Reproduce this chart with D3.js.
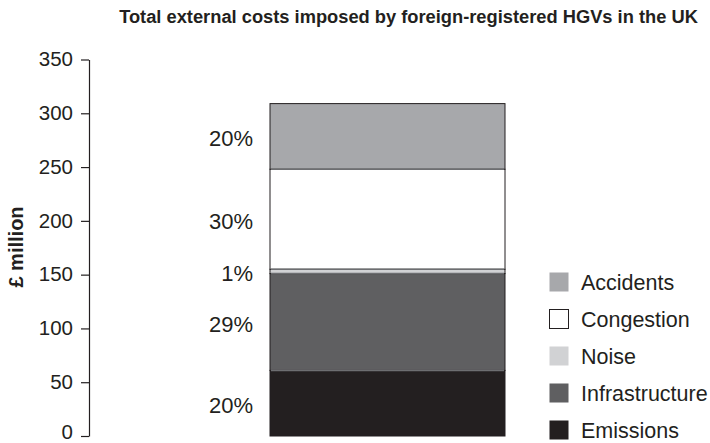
<!DOCTYPE html>
<html>
<head>
<meta charset="utf-8">
<script src="https://cdn.jsdelivr.net/npm/d3@7"></script>
<style>
  html, body { margin: 0; padding: 0; background: #ffffff; }
  svg { display: block; font-family: "Liberation Sans", Arial, Helvetica, sans-serif; }
</style>
</head>
<body>
<svg id="chart" width="710" height="443"></svg>
<script>
// Cost components, stacked bottom to top
const categories = ["Total"];
const components = ["Emissions", "Infrastructure", "Noise", "Congestion", "Accidents"];
const values = [61, 90, 4, 93, 61];           // £ million
const shareLabels = ["20%", "29%", "1%", "30%", "20%"];
const yTicks = [0, 50, 100, 150, 200, 250, 300, 350];
const legendOrder = ["Accidents", "Congestion", "Noise", "Infrastructure", "Emissions"];

const fills = {
  Emissions: "#231f20",
  Infrastructure: "#5f5f61",
  Noise: "#d1d2d4",
  Congestion: "#ffffff",
  Accidents: "#a7a8ab"
};
const ink = "#231f20";

const svg = d3.select("#chart");

// Plot geometry
const plot = { left: 89, top: 59.5, bottom: 436 };

const y = d3.scaleLinear().domain([0, 350]).range([plot.bottom, plot.top]);
const x = d3.scaleBand().domain(categories).range([270, 505]);

// Title
svg.append("text")
  .attr("x", 408.5).attr("y", 23)
  .attr("text-anchor", "middle")
  .attr("font-weight", "bold")
  .attr("font-size", 18.3)
  .attr("fill", ink)
  .text("Total external costs imposed by foreign-registered HGVs in the UK");

// Y axis
const yAxis = d3.axisLeft(y).tickValues(yTicks).tickSize(8).tickPadding(8).tickSizeOuter(0);
const gy = svg.append("g").attr("transform", `translate(${plot.left},0)`).call(yAxis);
gy.select(".domain").attr("stroke", ink).attr("stroke-width", 1.2);
gy.selectAll(".tick line").attr("stroke", ink).attr("stroke-width", 1.2);
gy.selectAll(".tick text")
  .attr("font-size", 20.5)
  .attr("dy", d => d === 0 ? "0.1em" : "0.3em")   // keep the bottom label inside the frame
  .attr("fill", ink)
  .attr("font-family", "Liberation Sans, Arial, sans-serif");

// Y axis title
svg.append("text")
  .attr("transform", `translate(23,247) rotate(-90)`)
  .attr("text-anchor", "middle")
  .attr("font-weight", "bold")
  .attr("font-size", 20)
  .attr("fill", ink)
  .text("£ million");

// Stacked bar
const row = { category: categories[0] };
components.forEach((c, i) => { row[c] = values[i]; });
const series = d3.stack().keys(components)([row]);

svg.append("g").selectAll("rect")
  .data(series)
  .join("rect")
  .attr("x", x(categories[0]))
  .attr("width", x.bandwidth())
  .attr("y", d => y(d[0][1]))
  .attr("height", d => y(d[0][0]) - y(d[0][1]))
  .attr("fill", d => fills[d.key])
  .attr("stroke", ink)
  .attr("stroke-width", 1);

// Divider lines between segments are lighter grey
svg.append("g").selectAll("line")
  .data(series.slice(1))
  .join("line")
  .attr("x1", x(categories[0]) + 1)
  .attr("x2", x(categories[0]) + x.bandwidth() - 1)
  .attr("y1", d => y(d[0][0]))
  .attr("y2", d => y(d[0][0]))
  .attr("stroke", "#6d6e71")
  .attr("stroke-width", 1.5);

// Share labels to the left of the bar
svg.append("g").selectAll("text")
  .data(series)
  .join("text")
  .attr("x", x(categories[0]) - 17)
  .attr("y", d => (y(d[0][0]) + y(d[0][1])) / 2 + 2)
  .attr("dy", "0.36em")
  .attr("text-anchor", "end")
  .attr("font-size", 22)
  .attr("fill", ink)
  .text((d, i) => shareLabels[i]);

// Legend
const legend = svg.append("g").attr("transform", "translate(549,272)");
const item = legend.selectAll("g")
  .data(legendOrder)
  .join("g")
  .attr("transform", (d, i) => `translate(0,${i * 37})`);
item.append("rect")
  .attr("x", 0.5).attr("y", 0.5)
  .attr("width", 19).attr("height", 19)
  .attr("fill", d => fills[d])
  .attr("stroke", d => d === "Congestion" ? ink : "none")
  .attr("stroke-width", 1);
item.append("text")
  .attr("x", 32).attr("y", 10)
  .attr("dy", "0.36em")
  .attr("font-size", 21.5)
  .attr("fill", ink)
  .text(d => d);
</script>
</body>
</html>
